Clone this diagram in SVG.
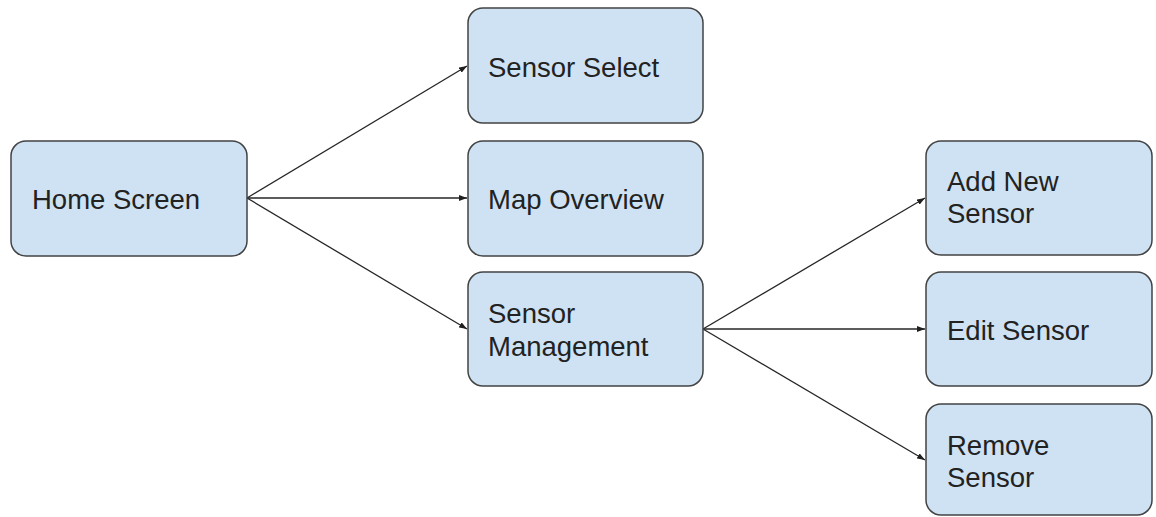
<svg xmlns="http://www.w3.org/2000/svg" width="1156" height="517" viewBox="0 0 1156 517">
  <defs>
    <marker id="arrow" viewBox="0 0 8 6" refX="8" refY="3" markerWidth="8" markerHeight="6" markerUnits="userSpaceOnUse" orient="auto">
      <path d="M0,0 L8,3 L0,6 Z" fill="#1f1f1f"/>
    </marker>
    <style>
      .box { fill: #cfe2f3; stroke: #434343; stroke-width: 1.5; }
      .label { font-family: "Liberation Sans", Arial, sans-serif; font-size: 27.5px; fill: #222222; }
      .edge { stroke: #262626; stroke-width: 1.3; fill: none; marker-end: url(#arrow); }
    </style>
  </defs>
  <rect width="1156" height="517" fill="#ffffff"/>

  <g id="connectors">
    <line class="edge" x1="247" y1="198" x2="467" y2="66"/>
    <line class="edge" x1="247" y1="198" x2="467" y2="198"/>
    <line class="edge" x1="247" y1="198" x2="467" y2="329"/>
    <line class="edge" x1="703" y1="329" x2="925" y2="198"/>
    <line class="edge" x1="703" y1="329" x2="925" y2="329"/>
    <line class="edge" x1="703" y1="329" x2="925" y2="460"/>
  </g>

  <g id="home-screen">
    <rect class="box" x="11" y="141" width="236" height="115" rx="15"/>
    <text class="label" x="32" y="209">Home Screen</text>
  </g>

  <g id="sensor-select">
    <rect class="box" x="468" y="8" width="235" height="115" rx="15"/>
    <text class="label" x="488" y="77">Sensor Select</text>
  </g>

  <g id="map-overview">
    <rect class="box" x="468" y="141" width="235" height="115" rx="15"/>
    <text class="label" x="488" y="209">Map Overview</text>
  </g>

  <g id="sensor-management">
    <rect class="box" x="468" y="272" width="235" height="114" rx="15"/>
    <text class="label" x="488" y="323">Sensor</text>
    <text class="label" x="488" y="356">Management</text>
  </g>

  <g id="add-new-sensor">
    <rect class="box" x="926" y="141" width="226" height="114" rx="15"/>
    <text class="label" x="947" y="191">Add New</text>
    <text class="label" x="947" y="223">Sensor</text>
  </g>

  <g id="edit-sensor">
    <rect class="box" x="926" y="272" width="226" height="114" rx="15"/>
    <text class="label" x="947" y="340">Edit Sensor</text>
  </g>

  <g id="remove-sensor">
    <rect class="box" x="926" y="404" width="226" height="111" rx="15"/>
    <text class="label" x="947" y="455">Remove</text>
    <text class="label" x="947" y="487">Sensor</text>
  </g>
</svg>
